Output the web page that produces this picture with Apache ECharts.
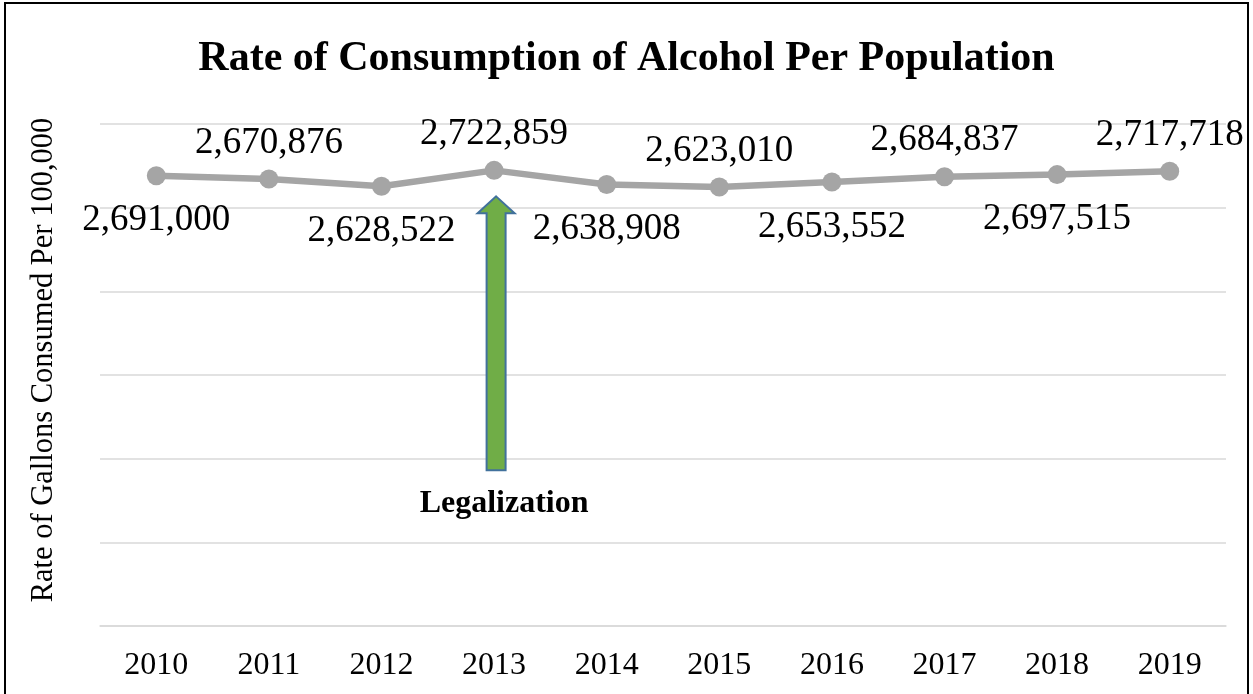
<!DOCTYPE html>
<html>
<head>
<meta charset="utf-8">
<style>
  html, body { margin: 0; padding: 0; background: #ffffff; }
  #chart { width: 1253px; height: 694px; }
</style>
<script src="https://cdn.jsdelivr.net/npm/echarts@6/dist/echarts.min.js"></script>
</head>
<body>
<div id="chart"></div>
<script>
// Yearly consumption rate (gallons per 100,000 population)
const years = ['2010', '2011', '2012', '2013', '2014', '2015', '2016', '2017', '2018', '2019'];
const rates = [2691000, 2670876, 2628522, 2722859, 2638908, 2623010, 2653552, 2684837, 2697515, 2717718];
const eventYear = '2013';
const eventLabel = 'Legalization';

const serif = '"Liberation Serif", "Times New Roman", "DejaVu Serif", serif';
const fmt = v => v.toLocaleString('en-US');

const chart = echarts.init(document.getElementById('chart'), null, { renderer: 'canvas' });

chart.setOption({
  backgroundColor: '#ffffff',
  animation: false,
  title: {
    text: 'Rate of Consumption of Alcohol Per Population',
    left: 'center',
    top: 33,
    textStyle: { fontFamily: serif, fontSize: 42, fontWeight: 'bold', color: '#000000' }
  },
  grid: { left: 100, right: 27, top: 124, bottom: 68, containLabel: false },
  xAxis: {
    type: 'category',
    data: years,
    boundaryGap: true,
    axisLine: { show: true, lineStyle: { color: '#d9d9d9', width: 1.5 } },
    axisTick: { show: false },
    axisLabel: { fontFamily: serif, fontSize: 32, color: '#000000', margin: 24 }
  },
  yAxis: {
    type: 'value',
    min: 0,
    max: 3000000,
    interval: 500000,
    name: 'Rate of Gallons Consumed Per 100,000',
    nameLocation: 'middle',
    nameGap: 41,
    nameTextStyle: { fontFamily: serif, fontSize: 30.5, color: '#000000', padding: [0, 0, 0, 30] },
    axisLabel: { show: false },
    axisLine: { show: false },
    axisTick: { show: false },
    splitLine: { lineStyle: { color: '#d9d9d9', width: 1.5 } }
  },
  series: [{
    type: 'line',
    data: rates.map((v, i) => ({
      value: v,
      label: {
        position: i % 2 === 0 ? 'bottom' : 'top',
        distance: i % 2 === 0 ? 17 : 8
      }
    })),
    symbol: 'circle',
    symbolSize: 19,
    lineStyle: { color: '#a5a5a5', width: 6.5 },
    itemStyle: { color: '#a5a5a5' },
    label: {
      show: true,
      fontFamily: serif,
      fontSize: 37,
      color: '#000000',
      formatter: p => fmt(p.value)
    },
    z: 3
  }]
});

// Block arrow pointing at the event year, with its caption underneath
const idx = years.indexOf(eventYear);
const pt = chart.convertToPixel({ seriesIndex: 0 }, [eventYear, rates[idx]]);
const cx = pt[0] + 2;
const tipY = pt[1] + 26;
const headH = 17, headHalf = 18.5, shaftHalf = 9.5, arrowLen = 274;
const bottomY = tipY + arrowLen;

chart.setOption({
  graphic: [
    {
      type: 'polygon',
      z: 10,
      shape: {
        points: [
          [cx, tipY],
          [cx + headHalf, tipY + headH],
          [cx + shaftHalf, tipY + headH],
          [cx + shaftHalf, bottomY],
          [cx - shaftHalf, bottomY],
          [cx - shaftHalf, tipY + headH],
          [cx - headHalf, tipY + headH]
        ]
      },
      style: { fill: '#70ad47', stroke: '#41719c', lineWidth: 2 }
    },
    {
      type: 'text',
      z: 10,
      x: cx + 8,
      y: bottomY + 33,
      style: {
        text: eventLabel,
        fontFamily: serif,
        fontSize: 32,
        fontWeight: 'bold',
        fill: '#000000',
        align: 'center',
        verticalAlign: 'middle'
      }
    },
    {
      type: 'rect',
      z: 20,
      silent: true,
      shape: { x: 5, y: 3, width: 1243, height: 720 },
      style: { fill: 'none', stroke: '#000000', lineWidth: 2 }
    }
  ]
});
</script>
</body>
</html>
